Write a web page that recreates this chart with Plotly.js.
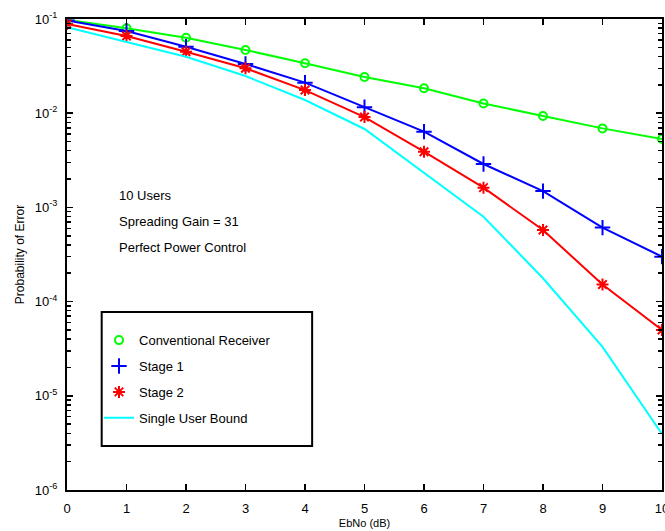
<!DOCTYPE html>
<html>
<head>
<meta charset="utf-8">
<script src="https://cdn.plot.ly/plotly-3.0.1.min.js"></script>
<style>html,body{margin:0;padding:0;background:#fff;}#chart{width:665px;height:531px;}</style>
</head>
<body>
<div id="chart"></div>
<script>
// EbNo (dB)
const ebno = [0, 1, 2, 3, 4, 5, 6, 7, 8, 9, 10];
// Probability of error per receiver
const conventional = [0.098, 0.0796, 0.0633, 0.0469, 0.0339, 0.0242, 0.0184, 0.0127, 0.00933, 0.0069, 0.00532];
const stage1       = [0.0965, 0.0746, 0.0508, 0.0333, 0.0211, 0.0116, 0.00637, 0.00289, 0.00149, 0.00061, 0.000300];
const stage2       = [0.0885, 0.066, 0.045, 0.030, 0.0176, 0.0091, 0.0039, 0.00162, 0.000575, 0.000152, 0.0000500];
const singleUser   = [0.0816, 0.0574, 0.0398, 0.0248, 0.0138, 0.0068, 0.00233, 0.000796, 0.000177, 0.000033, 0.00000393];

const seriesNames = ["Conventional Receiver", "Stage 1", "Stage 2", "Single User Bound"];
const yTickVals = [1e-6, 1e-5, 1e-4, 1e-3, 1e-2, 1e-1];
const yTickText = ["10<sup>-6</sup>", "10<sup>-5</sup>", "10<sup>-4</sup>", "10<sup>-3</sup>", "10<sup>-2</sup>", "10<sup>-1</sup>"];
const notes = ["10 Users", "Spreading Gain = 31", "Perfect Power Control"];

const FONT = "Liberation Sans, Arial, Helvetica, sans-serif";

const traces = [
  {x: ebno, y: conventional, mode: "lines", line: {color: "#00ff00", width: 2}, showlegend: false, hoverinfo: "skip"},
  {x: ebno, y: conventional, mode: "markers", name: seriesNames[0], legendgroup: "g1",
   marker: {symbol: "circle-open", size: 8, color: "#00ff00", line: {width: 2, color: "#00ff00"}}},
  {x: ebno, y: stage1, mode: "lines", line: {color: "#0000ff", width: 2}, showlegend: false, hoverinfo: "skip"},
  {x: ebno, y: stage1, mode: "markers", name: seriesNames[1], legendgroup: "g2",
   marker: {symbol: "cross-thin-open", size: 11, color: "#0000ff", line: {width: 2, color: "#0000ff"}}},
  {x: ebno, y: stage2, mode: "lines", line: {color: "#ff0000", width: 2}, showlegend: false, hoverinfo: "skip"},
  {x: ebno, y: stage2, mode: "markers", name: seriesNames[2], legendgroup: "g3",
   marker: {symbol: "asterisk-open", size: 10, color: "#ff0000", line: {width: 2, color: "#ff0000"}}},
  {x: ebno, y: singleUser, mode: "lines", name: seriesNames[3], legendgroup: "g4",
   line: {color: "#00ffff", width: 2}}
];

const layout = {
  width: 665, height: 531,
  margin: {l: 67, r: 3, t: 19, b: 41, pad: 0},
  paper_bgcolor: "#ffffff", plot_bgcolor: "#ffffff",
  font: {family: FONT, size: 13, color: "#000"},
  showlegend: true,
  xaxis: {
    range: [0, 10], dtick: 1, tick0: 0,
    showgrid: false, zeroline: false,
    showline: true, linecolor: "#000", linewidth: 2, mirror: "ticks",
    ticks: "inside", ticklen: 6, tickwidth: 1.5, tickcolor: "#000",
    ticklabelstandoff: 5, ticklabeloverflow: "allow",
    tickfont: {family: FONT, size: 13},
    title: {text: "EbNo (dB)", font: {family: FONT, size: 11}, standoff: 5}
  },
  yaxis: {
    type: "log", range: [-6, -1],
    tickvals: yTickVals, ticktext: yTickText,
    showgrid: false, zeroline: false,
    showline: true, linecolor: "#000", linewidth: 2, mirror: "ticks",
    ticks: "inside", ticklen: 6, tickwidth: 1.5, tickcolor: "#000",
    ticklabelstandoff: 5, ticklabeloverflow: "allow",
    tickfont: {family: FONT, size: 13},
    minor: {dtick: "D1", ticks: "inside", ticklen: 4, tickwidth: 1.5, tickcolor: "#000", showgrid: false},
    title: {text: "Probability of Error", font: {family: FONT, size: 12}, standoff: 8}
  },
  legend: {
    x: 0.0538, y: 0.35, xanchor: "left", yanchor: "top",
    bgcolor: "rgba(0,0,0,0)", borderwidth: 0,
    font: {family: FONT, size: 13},
    traceorder: "grouped", tracegroupgap: 6
  },
  shapes: [
    {type: "rect", xref: "paper", yref: "paper", x0: 0.0583, x1: 0.412, y0: 0.0934, y1: 0.378,
     line: {color: "#000", width: 2}, fillcolor: "#fff", layer: "below"}
  ],
  annotations: notes.map((t, i) => ({
    text: t, xref: "paper", yref: "paper", x: 0.0835, y: [0.626, 0.571, 0.514][i],
    xanchor: "left", yanchor: "middle", showarrow: false,
    font: {family: FONT, size: 13, color: "#000"}
  }))
};

Plotly.newPlot("chart", traces, layout, {displayModeBar: false, staticPlot: true});
</script>
</body>
</html>
